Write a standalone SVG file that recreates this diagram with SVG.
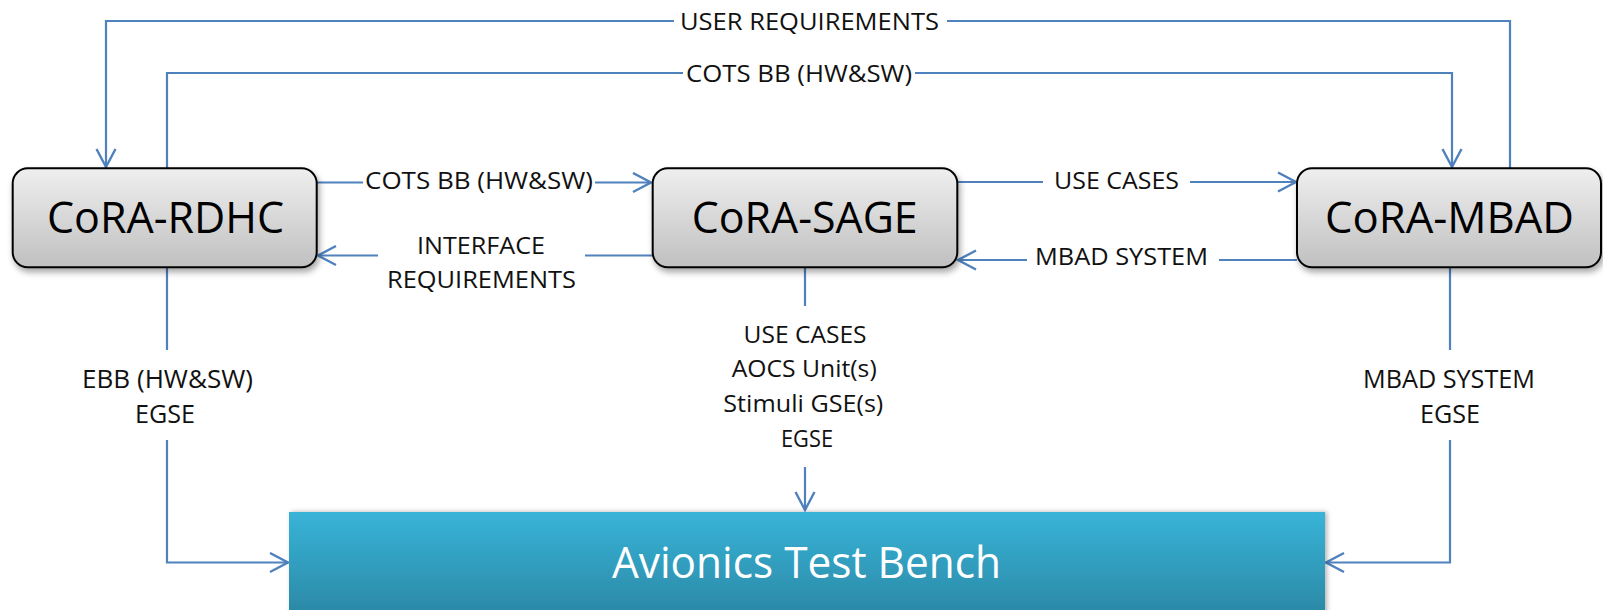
<svg xmlns="http://www.w3.org/2000/svg" width="1603" height="610" viewBox="0 0 1603 610">
  <style>
    .conn { fill: none; stroke: #4F81BD; stroke-width: 2.2; }
    .lbl { font-family: "Open Sans", "Liberation Sans", sans-serif; font-size: 23px; fill: #111; }
    .lbl-lg { font-family: "Open Sans", "Liberation Sans", sans-serif; font-size: 25px; fill: #111; }
    .node-box { fill: url(#greyFill); stroke: #000; stroke-width: 2; filter: url(#shadow); }
    .node-txt { font-family: "Open Sans", "Liberation Sans", sans-serif; font-size: 44px; fill: #000; }
    .bench-txt { font-family: "Open Sans", "Liberation Sans", sans-serif; font-size: 44px; fill: #fff; }
  </style>
  <defs>
    <linearGradient id="greyFill" x1="0" y1="0" x2="0" y2="1">
      <stop offset="0" stop-color="#EFEFEF"/>
      <stop offset="1" stop-color="#C0C0C0"/>
    </linearGradient>
    <linearGradient id="blueFill" x1="0" y1="0" x2="0" y2="1">
      <stop offset="0" stop-color="#38B4D8"/>
      <stop offset="1" stop-color="#2A84A0"/>
    </linearGradient>
    <filter id="shadow" x="-10%" y="-10%" width="130%" height="140%">
      <feDropShadow dx="2" dy="4" stdDeviation="3" flood-color="#000" flood-opacity="0.35"/>
    </filter>
    <filter id="benchShadow" x="-5%" y="-10%" width="110%" height="130%">
      <feDropShadow dx="2" dy="0" stdDeviation="2.5" flood-color="#000" flood-opacity="0.3"/>
    </filter>
    <marker id="arrow" markerUnits="userSpaceOnUse" markerWidth="22" markerHeight="24" refX="19" refY="11" orient="auto">
      <path d="M1,1.5 L19,11 L1,20.5" fill="none" stroke="#4F81BD" stroke-width="2.4"/>
    </marker>
  </defs>

  <!-- connectors -->
  <g id="connectors">
    <path class="conn" marker-end="url(#arrow)" d="M1510,168 V21 H947 M674,21 H106 V167"/>
    <path class="conn" marker-end="url(#arrow)" d="M167,168 V73 H683 M915,73 H1452 V167"/>
    <path class="conn" marker-end="url(#arrow)" d="M317,182.5 H363 M595,182.5 H651"/>
    <path class="conn" marker-end="url(#arrow)" d="M653,255.5 H585 M378,255.5 H318"/>
    <path class="conn" marker-end="url(#arrow)" d="M957,182 H1043 M1190,182 H1296"/>
    <path class="conn" marker-end="url(#arrow)" d="M1297,260 H1219 M1027,260 H958"/>
    <path class="conn" marker-end="url(#arrow)" d="M167,267 V350 M167,440 V562.5 H288"/>
    <path class="conn" marker-end="url(#arrow)" d="M805,267 V306 M805,467 V510"/>
    <path class="conn" marker-end="url(#arrow)" d="M1450,267 V350 M1450,440 V562.5 H1326"/>
  </g>

  <!-- connector labels -->
  <g id="labels">
    <text class="lbl" x="680" y="29.5" textLength="259" lengthAdjust="spacingAndGlyphs">USER REQUIREMENTS</text>
    <text class="lbl" x="686" y="81.5" textLength="226" lengthAdjust="spacingAndGlyphs">COTS BB (HW&amp;SW)</text>
    <text class="lbl" x="365" y="188.5" textLength="228" lengthAdjust="spacingAndGlyphs">COTS BB (HW&amp;SW)</text>
    <text class="lbl" x="417" y="254" textLength="128" lengthAdjust="spacingAndGlyphs">INTERFACE</text>
    <text class="lbl" x="387" y="288.3" textLength="189" lengthAdjust="spacingAndGlyphs">REQUIREMENTS</text>
    <text class="lbl" x="1054" y="188.5" textLength="125" lengthAdjust="spacingAndGlyphs">USE CASES</text>
    <text class="lbl" x="1035" y="265" textLength="173" lengthAdjust="spacingAndGlyphs">MBAD SYSTEM</text>
    <text class="lbl-lg" x="82" y="388.3" textLength="171" lengthAdjust="spacingAndGlyphs">EBB (HW&amp;SW)</text>
    <text class="lbl-lg" x="135" y="423" textLength="60" lengthAdjust="spacingAndGlyphs">EGSE</text>
    <text class="lbl" x="743.5" y="343.3" textLength="123" lengthAdjust="spacingAndGlyphs">USE CASES</text>
    <text class="lbl" x="731.7" y="377.3" textLength="145" lengthAdjust="spacingAndGlyphs">AOCS Unit(s)</text>
    <text class="lbl" x="723.3" y="411.7" textLength="160" lengthAdjust="spacingAndGlyphs">Stimuli GSE(s)</text>
    <text class="lbl" x="781" y="446.7" textLength="52" lengthAdjust="spacingAndGlyphs">EGSE</text>
    <text class="lbl-lg" x="1363" y="388.3" textLength="172" lengthAdjust="spacingAndGlyphs">MBAD SYSTEM</text>
    <text class="lbl-lg" x="1420" y="423" textLength="60" lengthAdjust="spacingAndGlyphs">EGSE</text>
  </g>

  <!-- nodes -->
  <g id="node-rdhc">
    <rect class="node-box" x="12.7" y="168.3" width="304" height="99" rx="15"/>
    <text class="node-txt" x="47" y="232.8" textLength="237" lengthAdjust="spacingAndGlyphs">CoRA-RDHC</text>
  </g>
  <g id="node-sage">
    <rect class="node-box" x="652.7" y="168.3" width="304.6" height="99" rx="15"/>
    <text class="node-txt" x="691.7" y="232.8" textLength="226" lengthAdjust="spacingAndGlyphs">CoRA-SAGE</text>
  </g>
  <g id="node-mbad">
    <rect class="node-box" x="1297" y="168.3" width="304" height="99" rx="15"/>
    <text class="node-txt" x="1325" y="232.8" textLength="249" lengthAdjust="spacingAndGlyphs">CoRA-MBAD</text>
  </g>
  <g id="node-bench">
    <rect x="289" y="512" width="1036" height="112" fill="url(#blueFill)" filter="url(#benchShadow)"/>
    <text class="bench-txt" x="612" y="578.3" textLength="389" lengthAdjust="spacingAndGlyphs">Avionics Test Bench</text>
  </g>
</svg>
